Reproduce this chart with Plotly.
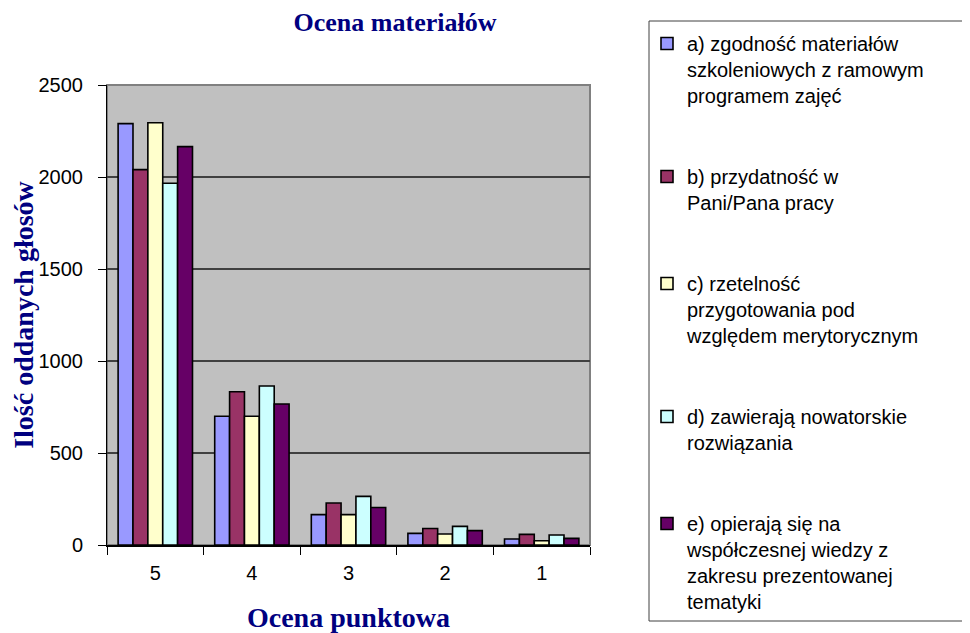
import plotly.graph_objects as go

categories = ["5", "4", "3", "2", "1"]

series_names = [
    "a) zgodność materiałów<br>szkoleniowych z ramowym<br>programem zajęć",
    "b) przydatność w<br>Pani/Pana pracy",
    "c) rzetelność<br>przygotowania pod<br>względem merytorycznym",
    "d) zawierają nowatorskie<br>rozwiązania",
    "e) opierają się na<br>współczesnej wiedzy z<br>zakresu prezentowanej<br>tematyki",
]

values_a = [2290, 700, 165, 63, 33]
values_b = [2040, 833, 228, 90, 58]
values_c = [2295, 700, 165, 60, 23]
values_d = [1966, 864, 264, 101, 54]
values_e = [2165, 766, 204, 78, 36]

colors = ["#9999FF", "#993366", "#FFFFCC", "#CCFFFF", "#660066"]
legend_lines = [5, 4, 5, 4, 4]  # total lines per legend entry (text + padding)

all_values = [values_a, values_b, values_c, values_d, values_e]

fig = go.Figure()
for name, vals, col, nl in zip(series_names, all_values, colors, legend_lines):
    pad = nl - (name.count("<br>") + 1)
    fig.add_trace(go.Bar(
        x=categories, y=vals, name=name + "<br>" * pad,
        marker=dict(color=col, line=dict(color="black", width=1.6)),
    ))

# page body has an 8px margin, so the figure is drawn offset by 8px
OFF = 8
W, H = 970 - OFF, 633 - OFF
L, T = 107 - OFF, 85 - OFF
pw, ph = 483, 460
R = W - L - pw
B = H - T - ph

def px_x(p):  # p = pixel in the screenshot
    return (p - OFF - L) / pw

def px_y(p):
    return (T + ph - (p - OFF)) / ph

serif = "Liberation Serif, Times New Roman, serif"
sans = "Liberation Sans, Arial, sans-serif"

fig.update_layout(
    width=W, height=H,
    margin=dict(l=L, r=R, t=T, b=B, autoexpand=False),
    paper_bgcolor="white",
    plot_bgcolor="#C0C0C0",
    barmode="group",
    bargap=0.23,
    bargroupgap=0,
    title=dict(
        text="Ocena materiałów",
        x=(395 - OFF) / W, xanchor="center", xref="container",
        y=1 - (22 - OFF) / H, yanchor="middle", yref="container",
        font=dict(family=serif, size=26, color="#000080", weight="bold"),
    ),
    font=dict(family=sans, size=20, color="black"),
    xaxis=dict(
        type="category",
        categoryorder="array", categoryarray=categories,
        tickson="boundaries",
        ticks="outside", ticklen=8, tickcolor="black", tickwidth=1,
        showline=True, linecolor="black", linewidth=1.5,
        showgrid=False,
        automargin=False,
        tickfont=dict(size=20, color="black"),
        ticklabelstandoff=9,
        title=dict(text="Ocena punktowa", standoff=27,
                   font=dict(family=serif, size=28, color="#000080", weight="bold")),
    ),
    yaxis=dict(
        range=[0, 2500], dtick=500,
        ticks="outside", ticklen=8, tickcolor="black", tickwidth=1,
        showline=True, linecolor="black", linewidth=1,
        showgrid=True, gridcolor="#404040", gridwidth=1.5,
        zeroline=False,
        automargin=False,
        tickfont=dict(size=20, color="black"),
        ticklabelstandoff=11,
        title=dict(text="Ilość oddanych głosów", standoff=0,
                   font=dict(family=serif, size=28, color="#000080", weight="bold")),
    ),
    legend=dict(
        x=px_x(647), y=px_y(24), xanchor="left", yanchor="top",
        xref="paper", yref="paper",
        bgcolor="rgba(0,0,0,0)", borderwidth=0,
        font=dict(family=sans, size=20, color="black"),
        valign="top", traceorder="normal",
        maxheight=700,
    ),
    shapes=[
        dict(type="rect", xref="paper", yref="paper", x0=0, x1=1, y0=0, y1=1,
             line=dict(color="#808080", width=2), fillcolor="rgba(0,0,0,0)", layer="below"),
        dict(type="rect", xref="paper", yref="paper",
             x0=px_x(649), x1=px_x(980), y0=px_y(621), y1=px_y(21),
             line=dict(color="#404040", width=1), fillcolor="rgba(0,0,0,0)", layer="above"),
    ],
)

fig.write_html("out.html")
